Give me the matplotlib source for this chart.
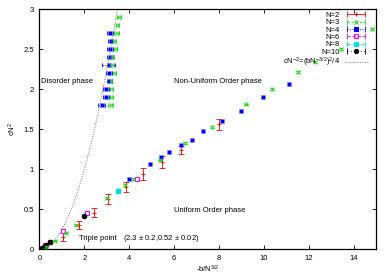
import numpy as np
import matplotlib.pyplot as plt
from matplotlib.lines import Line2D
from matplotlib.legend_handler import HandlerLine2D, HandlerTuple

plt.rcParams['font.family'] = 'Liberation Sans'
plt.rcParams['font.size'] = 5.5
plt.rcParams['mathtext.default'] = 'regular'

# N=2
n2_x = [1.06, 1.76, 2.44, 3.07, 3.84, 4.62, 5.47, 6.30, 8.01]
n2_y = [0.15, 0.30, 0.46, 0.625, 0.78, 0.94, 1.09, 1.24, 1.56]
n2_yerr = [0.05, 0.05, 0.06, 0.06, 0.06, 0.07, 0.07, 0.05, 0.07]

# N=3 (ordered branch + transition branch)
n3_x = [0.29, 0.69, 1.18, 1.61, 3.02, 3.81, 4.18, 5.37, 6.50, 7.68, 9.20, 10.37, 11.53, 12.27, 13.46, 14.80]
n3_y = [0.03, 0.11, 0.21, 0.30, 0.645, 0.80, 0.88, 1.11, 1.33, 1.53, 1.81, 2.00, 2.22, 2.34, 2.50, 2.75]
n3t_x = [3.54, 3.47, 3.44, 3.30, 3.36, 3.24, 3.21, 3.33, 3.18, 3.18, 3.18, 3.17]
n3t_y = [2.9, 2.8, 2.7, 2.6, 2.5, 2.4, 2.3, 2.2, 2.1, 2.0, 1.9, 1.8]
n3t_xerr = [0.08, 0.06, 0.1, 0.1, 0.1, 0.1, 0.1, 0.1, 0.06, 0.08, 0.08, 0.1]

# N=4
n4_x = [3.97, 4.92, 5.42, 5.78, 6.30, 6.78, 7.30, 8.15, 8.98, 9.97, 11.11]
n4_y = [0.875, 1.06, 1.15, 1.22, 1.30, 1.37, 1.48, 1.60, 1.73, 1.90, 2.06]
n4t_x = [3.14, 3.17, 3.15, 3.14, 3.08, 3.10, 3.11, 2.96, 2.96, 2.77]
n4t_y = [2.7, 2.6, 2.5, 2.4, 2.3, 2.2, 2.1, 2.0, 1.9, 1.8]
n4t_xerr = [0.15, 0.12, 0.12, 0.12, 0.3, 0.12, 0.12, 0.15, 0.15, 0.15]

# N=6, N=8, N=10
n6_x = [0.25, 0.47, 1.05, 2.13, 4.33]
n6_y = [0.05, 0.09, 0.23, 0.46, 0.88]
n8_x = [3.48]
n8_y = [0.73]
n10_x = [0.03, 0.10, 0.18, 0.30, 0.45, 1.97]
n10_y = [0.005, 0.02, 0.035, 0.06, 0.09, 0.42]

fig = plt.figure(figsize=(3.89, 2.73), dpi=100)
ax = fig.add_axes([0.1015, 0.0868, 0.8651, 0.8792])

red, green, blue = '#ff0000', '#22dd22', '#0000ff'
mag, cyan = '#ff00ff', '#00e0e0'

ax.errorbar(n2_x, n2_y, yerr=n2_yerr, fmt='+', color=red, ms=3, mew=0.6,
            elinewidth=0.6, capsize=2, capthick=0.6)

eb = ax.errorbar(n3_x, n3_y, yerr=0.012, fmt='x', color=green, ms=2.3, mew=0.7,
                 elinewidth=0.5, capsize=1.3, capthick=0.6)
eb = ax.errorbar(n3t_x, n3t_y, xerr=n3t_xerr, fmt='x', color=green, ms=2.3, mew=0.7,
                 elinewidth=0.5, capsize=1.3, capthick=0.6)
eb[2][0].set_linestyle((0, (3, 2)))

ax.plot(n4_x, n4_y, ls='none', marker='s', color=blue, ms=2.6, mew=0.4,
        mfc=blue, mec='#8080ff')
eb = ax.errorbar(n4t_x, n4t_y, xerr=n4t_xerr, fmt='none', color=blue,
                 elinewidth=0.5, capsize=1.5, capthick=0.6)
eb[2][0].set_linestyle((0, (2, 2)))
ax.plot(n4t_x, n4t_y, ls='none', marker='s', color=blue, ms=2.6, mew=0.4,
        mfc=blue, mec='#8080ff')

ax.plot(n6_x, n6_y, ls='none', marker='s', mfc='none', mec=mag, ms=3.5, mew=0.8)
ax.plot(n8_x, n8_y, ls='none', marker='s', color=cyan, ms=3.5)
ax.plot(n10_x, n10_y, ls='none', marker='o', color='black', ms=3)

xc = np.linspace(0, 3.47, 200)
ax.plot(xc, xc ** 2 / 4, ls=(0, (1, 1.5)), color='#777777', lw=0.7)

ax.set_xlim(0, 15)
ax.set_ylim(0, 3)
ax.set_xticks(np.arange(0, 15, 2))
ax.set_yticks([0, 0.5, 1, 1.5, 2, 2.5, 3])
ax.set_yticklabels(['0', '0.5', '1', '1.5', '2', '2.5', '3'])
ax.tick_params(direction='in', top=True, right=True, length=3, width=0.6,
               labelsize=5.5, pad=4)
for s in ax.spines.values():
    s.set_linewidth(0.9)
ax.set_xlabel('-b/N$^{3/2}$', labelpad=1)
ax.set_ylabel('cN$^2$', labelpad=4)

ax.text(0.05, 2.10, 'Disorder phase', va='center')
ax.text(6.0, 2.10, 'Non-Uniform Order phase', va='center')
ax.text(6.0, 0.49, 'Uniform Order phase', va='center')
ax.text(1.77, 0.14, 'Triple point', va='center')
ax.text(3.73, 0.14, '(2.3 $\\pm$ 0.2,0.52 $\\pm$ 0.02)', va='center')

# legend in gnuplot style
styles = [
    ('N=2', red, '-', '+', 'none'),
    ('N=3', green, (0, (3, 2)), 'x', green),
    ('N=4', blue, (0, (1, 2)), 's', blue),
    ('N=6', mag, (0, (4, 2)), 's', 'none'),
    ('N=8', cyan, (0, (4, 1.5, 1, 1.5)), 's', cyan),
    ('N=10', 'black', (0, (1, 3)), 'o', 'black'),
]
handles, labels, hmap = [], [], {}
for lab, c, ls, m, fc in styles:
    cap = Line2D([], [], color=c, ls=ls, lw=0.6, marker='|', ms=4, mew=0.6)
    mid = Line2D([], [], color=c, ls='none', marker=m, ms=3.0,
                 mfc=fc, mec=c, mew=0.8)
    hmap[cap] = HandlerLine2D(numpoints=2)
    hmap[mid] = HandlerLine2D(numpoints=1)
    handles.append((cap, mid))
    labels.append(lab)
handles.append(Line2D([], [], color='#777777', ls=(0, (1, 1.5)), lw=0.7))
labels.append('cN$^{-2}$=(bN$^{-3/2}$)$^2$/4')
hmap[tuple] = HandlerTuple(ndivide=1)
ax.legend(handles, labels, handler_map=hmap, loc='upper right',
          bbox_to_anchor=(0.975, 0.99), frameon=False, markerfirst=False,
          borderpad=0, borderaxespad=0, handlelength=3.0, handletextpad=0.6,
          labelspacing=0.0)

plt.savefig('out.png', dpi=100)
